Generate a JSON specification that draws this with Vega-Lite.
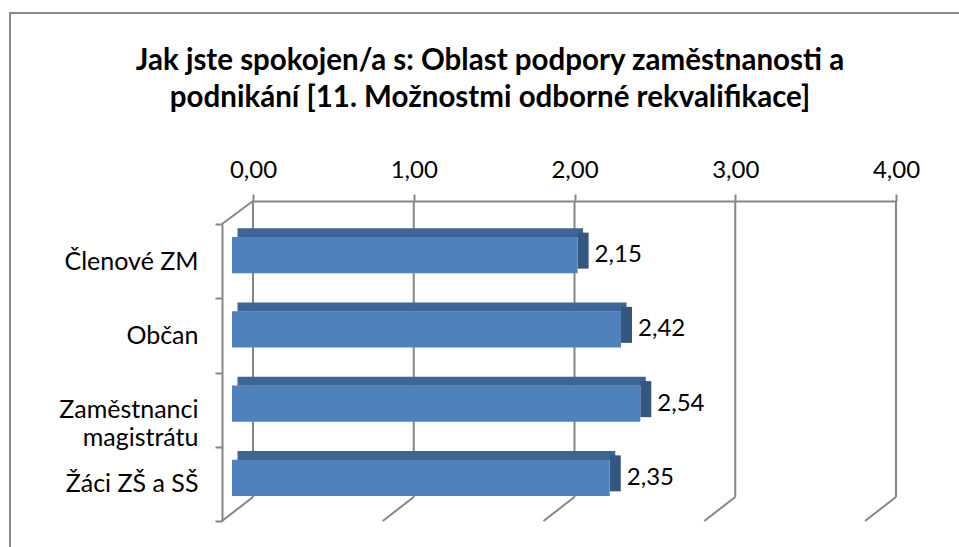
{
  "$schema": "https://vega.github.io/schema/vega-lite/v6.json",
  "width": 960,
  "height": 540,
  "autosize": {"type": "none"},
  "padding": {"left": 10, "top": 13, "right": 0, "bottom": 0},
  "background": "white",
  "config": {
    "view": {"stroke": "#8a8a8a", "strokeWidth": 2},
    "font": "Lato",
    "locale": {"number": {"decimal": ",", "thousands": " ", "grouping": [3], "currency": ["", " Kč"]}}
  },
  "title": {
    "text": ["Jak jste spokojen/a s: Oblast podpory zaměstnanosti a", "podnikání [11. Možnostmi odborné rekvalifikace]"],
    "anchor": "middle",
    "frame": "group",
    "font": "Lato",
    "fontSize": 29.5,
    "fontWeight": "bold",
    "color": "black",
    "lineHeight": 37,
    "offset": 0,
    "dy": 112
  },
  "datasets": {
    "hodnoty": [
      {"kategorie": "Členové ZM", "hodnota": 2.15},
      {"kategorie": "Občan", "hodnota": 2.42},
      {"kategorie": "Zaměstnanci magistrátu", "hodnota": 2.54},
      {"kategorie": "Žáci ZŠ a SŠ", "hodnota": 2.35}
    ],
    "osa": [{"t": 0}, {"t": 1}, {"t": 2}, {"t": 3}, {"t": 4}]
  },
  "resolve": {"scale": {"y": "independent"}},
  "layer": [
    {
      "data": {"name": "osa"},
      "encoding": {
        "x": {
          "field": "t",
          "type": "quantitative",
          "scale": {"domain": [0, 4], "range": [243, 886], "nice": false},
          "axis": {
            "orient": "top",
            "offset": -188,
            "title": null,
            "values": [0, 1, 2, 3, 4],
            "format": ".2f",
            "domainColor": "#868686",
            "domainWidth": 2,
            "tickColor": "#868686",
            "tickWidth": 2,
            "tickSize": 7,
            "grid": false,
            "labelFont": "Lato",
            "labelFontSize": 24,
            "labelColor": "black",
            "labelPadding": 12,
            "labelFlush": false,
            "labelOverlap": false
          }
        }
      },
      "layer": [
        {
          "mark": {"type": "rule", "color": "#868686", "strokeWidth": 2},
          "encoding": {
            "y": {"datum": 0, "type": "quantitative", "scale": {"domain": [0, 1], "range": [188, 484]}, "axis": null},
            "y2": {"datum": 1}
          }
        },
        {
          "mark": {"type": "rule", "color": "#868686", "strokeWidth": 2, "x2Offset": -31, "y2Offset": 24},
          "encoding": {
            "x2": {"field": "t"},
            "y": {"datum": 1, "type": "quantitative", "scale": {"domain": [0, 1], "range": [188, 484]}, "axis": null},
            "y2": {"datum": 1}
          }
        },
        {
          "transform": [{"filter": "datum.t == 0"}],
          "mark": {"type": "rule", "color": "#868686", "strokeWidth": 2, "x2Offset": -31, "y2Offset": 23},
          "encoding": {
            "x2": {"field": "t"},
            "y": {"datum": 0, "type": "quantitative", "scale": {"domain": [0, 1], "range": [188, 484]}, "axis": null},
            "y2": {"datum": 0}
          }
        }
      ]
    },
    {
      "data": {"name": "hodnoty"},
      "encoding": {
        "y": {
          "field": "kategorie",
          "type": "nominal",
          "sort": null,
          "scale": {"type": "band", "range": [211, 508], "paddingInner": 0, "paddingOuter": 0},
          "axis": {
            "orient": "left",
            "offset": -212,
            "title": null,
            "domainColor": "#868686",
            "domainWidth": 2,
            "tickColor": "#868686",
            "tickWidth": 2,
            "tickSize": 7,
            "tickBand": "extent",
            "grid": false,
            "labelFont": "Lato",
            "labelFontSize": 25,
            "labelColor": "black",
            "labelPadding": 17,
            "labelLimit": 0,
            "labelLineHeight": 28,
            "labelExpr": "datum.label == 'Zaměstnanci magistrátu' ? ['Zaměstnanci', 'magistrátu'] : datum.label"
          }
        }
      },
      "layer": [
        {
          "mark": {"type": "bar", "color": "#3D6596", "height": 9, "xOffset": -15.5, "x2Offset": -10, "yOffset": -28.5, "y2Offset": -28.5},
          "encoding": {"x": {"field": "hodnota", "type": "quantitative"}}
        },
        {
          "mark": {"type": "bar", "color": "#34577F", "height": {"band": 0.485}, "xOffset": -21, "x2Offset": -10, "yOffset": -10.5, "y2Offset": -10.5},
          "encoding": {
            "x": {"field": "hodnota", "type": "quantitative"},
            "x2": {"field": "hodnota"}
          }
        },
        {
          "mark": {"type": "bar", "color": "#4F81BD", "height": {"band": 0.485}, "xOffset": -21, "x2Offset": -21, "yOffset": -6, "y2Offset": -6},
          "encoding": {"x": {"field": "hodnota", "type": "quantitative"}}
        },
        {
          "mark": {"type": "text", "align": "left", "baseline": "middle", "dx": -4, "dy": -6, "font": "Lato", "fontSize": 24, "color": "black"},
          "encoding": {
            "x": {"field": "hodnota", "type": "quantitative"},
            "text": {"field": "hodnota", "type": "quantitative", "format": ".2f"}
          }
        }
      ]
    }
  ]
}
